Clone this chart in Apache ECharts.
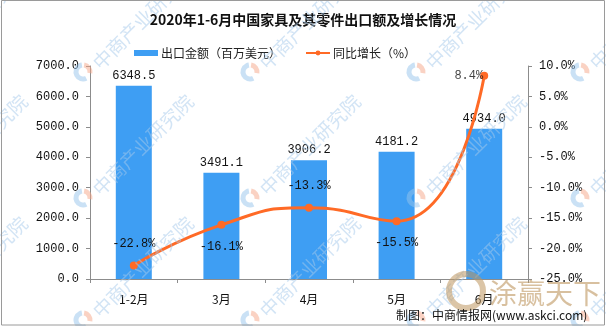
<!DOCTYPE html>
<html>
<head>
<meta charset="utf-8">
<script src="https://cdn.jsdelivr.net/npm/echarts@6/dist/echarts.min.js"></script>
<style>
  html, body { margin: 0; padding: 0; background: #fff; }
  #chart { width: 606px; height: 326px; }
</style>
</head>
<body>
<div id="chart"></div>
<script>
// Monthly export value of furniture & parts and year-on-year growth, Jan–Jun 2020
const months = ['1-2月', '3月', '4月', '5月', '6月'];
const exportValue = [6348.5, 3491.1, 3906.2, 4181.2, 4934.0];   // million USD
const growthRate = [-22.8, -16.1, -13.3, -15.5, 8.4];            // percent
const growthLabelPos = ['top', 'bottom', 'top', 'bottom', null];  // null: labelled separately
const lastIdx = growthRate.length - 1;

const monoFont = '"Liberation Mono", "DejaVu Sans Mono", monospace';
const cjkFont = '"Noto Sans CJK SC", sans-serif';
const axisGray = '#8c8c8c';

// Tiled brand watermark: small ring logo followed by the institute name at 45°
function watermarkTiles() {
  const items = [];
  const cols = [-83, 83, 250, 416, 580];
  const rows = [72, 198, 320];
  rows.forEach(y => {
    cols.forEach(x => {
      items.push({
        type: 'arc', silent: true, z: 50,
        shape: { cx: x, cy: y, r: 7, startAngle: Math.PI * 0.35, endAngle: Math.PI * 1.45 },
        style: { stroke: 'rgba(150,195,235,0.5)', lineWidth: 5, fill: null }
      });
      items.push({
        type: 'arc', silent: true, z: 50,
        shape: { cx: x, cy: y, r: 7, startAngle: Math.PI * 1.55, endAngle: Math.PI * 2.05 },
        style: { stroke: 'rgba(245,165,135,0.5)', lineWidth: 5, fill: null }
      });
      items.push({
        type: 'text', silent: true, z: 50,
        x: x + 13, y: y - 6,
        rotation: Math.PI / 4,
        style: {
          text: '中商产业研究院',
          font: '19px ' + cjkFont,
          fill: 'rgba(165,202,235,0.5)',
          textAlign: 'left',
          textVerticalAlign: 'middle'
        }
      });
    });
  });
  return items;
}

const pctLabel = {
  fontFamily: monoFont, fontSize: 12, color: '#111',
  formatter: p => (Array.isArray(p.value) ? p.value[1] : p.value).toFixed(1) + '%'
};

const chart = echarts.init(document.getElementById('chart'), null, { renderer: 'canvas' });

chart.setOption({
  animation: false,
  backgroundColor: '#fff',
  title: {
    text: '2020年1-6月中国家具及其零件出口额及增长情况',
    left: 'center',
    top: 8,
    textStyle: { fontFamily: cjkFont, fontSize: 14, fontWeight: 'bold', color: '#111' }
  },
  legend: {
    left: 129,
    top: 42,
    itemGap: 24,
    itemWidth: 24,
    itemHeight: 6,
    textStyle: { fontFamily: cjkFont, fontSize: 12, color: '#222', padding: [0, 0, 0, -2] },
    data: [
      { name: '出口金额（百万美元）', icon: 'rect' },
      { name: '同比增长（%）' }
    ]
  },
  grid: { left: 90, right: 78, top: 66, bottom: 47, containLabel: false },
  xAxis: {
    type: 'category',
    data: months,
    boundaryGap: true,
    axisLine: { lineStyle: { color: axisGray, width: 1 } },
    axisTick: { show: true, length: 4, lineStyle: { color: axisGray } },
    axisLabel: { margin: 14, fontFamily: cjkFont, fontSize: 12, color: '#111' }
  },
  yAxis: [
    {
      type: 'value',
      min: 0, max: 7000, interval: 1000,
      axisLine: { show: true, lineStyle: { color: axisGray } },
      axisTick: { show: true, length: 4, lineStyle: { color: axisGray } },
      splitLine: { show: false },
      axisLabel: {
        margin: 11,
        fontFamily: monoFont, fontSize: 12, color: '#111',
        formatter: v => v.toFixed(1)
      }
    },
    {
      type: 'value',
      min: -25, max: 10, interval: 5,
      axisLine: { show: true, lineStyle: { color: axisGray } },
      axisTick: { show: true, length: 4, lineStyle: { color: axisGray } },
      splitLine: { show: false },
      axisLabel: {
        margin: 11,
        fontFamily: monoFont, fontSize: 12, color: '#111',
        formatter: v => v.toFixed(1) + '%'
      }
    }
  ],
  series: [
    {
      name: '出口金额（百万美元）',
      type: 'bar',
      data: exportValue,
      barWidth: 36,
      itemStyle: { color: '#3e9ef3' },
      label: {
        show: true, position: 'top', distance: 4,
        fontFamily: monoFont, fontSize: 12, color: '#111',
        formatter: p => p.value.toFixed(1)
      },
      z: 2
    },
    {
      name: '同比增长（%）',
      type: 'line',
      yAxisIndex: 1,
      smooth: 0.55,
      data: growthRate.map((v, i) => ({
        value: v,
        label: growthLabelPos[i] ? { position: growthLabelPos[i] } : { show: false }
      })),
      symbol: 'circle',
      symbolSize: 8,
      lineStyle: { color: '#ff6a26', width: 3 },
      itemStyle: { color: '#ff6a26' },
      label: Object.assign({ show: true, distance: 12 }, pctLabel),
      z: 3
    },
    {
      // label for the final point, set below-left of its marker
      name: 'lastGrowthLabel',
      type: 'scatter',
      yAxisIndex: 1,
      data: [[lastIdx, growthRate[lastIdx]]],
      symbolSize: 2,
      itemStyle: { color: 'rgba(0,0,0,0)' },
      silent: true,
      label: Object.assign({ show: true, position: 'left', distance: 0, offset: [1, 7] }, pctLabel),
      labelLayout: { hideOverlap: false },
      z: 4
    }
  ],
  graphic: watermarkTiles().concat([
    {
      type: 'circle', silent: true, z: 51,
      shape: { cx: 466, cy: 291, r: 17 },
      style: { fill: null, stroke: 'rgba(190,150,95,0.55)', lineWidth: 6 }
    },
    {
      type: 'text', silent: true, z: 51,
      x: 489, y: 293,
      style: {
        text: '涂赢天下',
        font: '28px ' + cjkFont,
        fill: 'rgba(190,150,95,0.6)',
        textAlign: 'left',
        textVerticalAlign: 'middle'
      }
    },
    {
      type: 'rect',
      shape: { x: 1.5, y: 0.5, width: 603, height: 324.5 },
      style: { fill: 'none', stroke: '#9a9a9a', lineWidth: 1 },
      silent: true, z: 100
    },
    {
      type: 'text', z: 60,
      x: 396, y: 315,
      style: {
        text: '制图：中商情报网(www.askci.com)',
        font: '12px ' + cjkFont,
        fill: '#111',
        textAlign: 'left',
        textVerticalAlign: 'middle'
      }
    }
  ])
});
</script>
</body>
</html>
